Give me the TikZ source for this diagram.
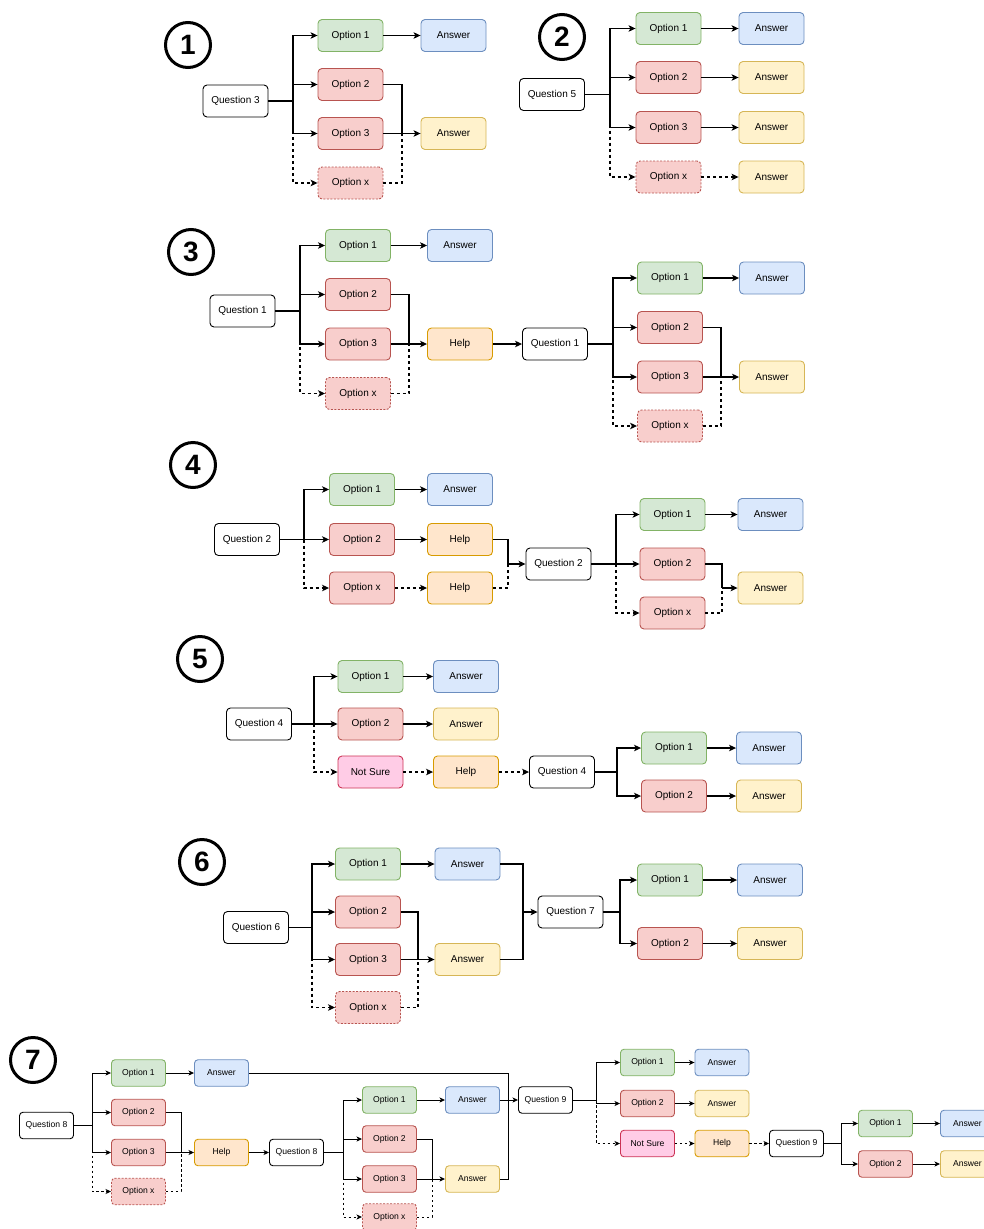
\documentclass[tikz,border=0pt]{standalone}
\usepackage{fontspec}
\setmainfont{Liberation Sans}
\usetikzlibrary{arrows.meta}
\definecolor{gfill}{HTML}{D5E8D4}\definecolor{gline}{HTML}{82B366}
\definecolor{rfill}{HTML}{F8CECC}\definecolor{rline}{HTML}{B85450}
\definecolor{bfill}{HTML}{DAE8FC}\definecolor{bline}{HTML}{6C8EBF}
\definecolor{yfill}{HTML}{FFF2CC}\definecolor{yline}{HTML}{D6B656}
\definecolor{hfill}{HTML}{FFE6CC}\definecolor{hline}{HTML}{D79B00}
\definecolor{pfill}{HTML}{FFCCE6}\definecolor{pline}{HTML}{CC3355}
\begin{document}
\begin{tikzpicture}[x=1pt,y=-1pt,
  box/.style={draw, rounded corners=4pt, minimum width=65pt, minimum height=32pt,
    line width=0.9pt, inner sep=0pt, font=\fontsize{10}{12}\selectfont},
  qbox/.style={box, fill=white, draw=black},
  gbox/.style={box, fill=gfill, draw=gline},
  rbox/.style={box, fill=rfill, draw=rline},
  rxbox/.style={rbox, dash pattern=on 2pt off 1.5pt},
  bbox/.style={box, fill=bfill, draw=bline},
  ybox/.style={box, fill=yfill, draw=yline},
  hbox/.style={box, fill=hfill, draw=hline},
  pbox/.style={box, fill=pfill, draw=pline},
  num/.style={circle, draw=black, line width=3pt, minimum size=45pt, inner sep=0pt,
    font=\fontsize{28}{28}\selectfont\bfseries},
  link/.style={line width=1.1pt, black},
  arr/.style={link, -{Stealth[length=7pt,width=6.5pt,inset=1.8pt]}},
  dlink/.style={link, dash pattern=on 3pt off 3pt},
  darr/.style={arr, dash pattern=on 3pt off 3pt},
]
\useasboundingbox (0,0) rectangle (984,1229);

% ---------- 1 ----------
\node[num] (c1) at (188,45) {1};
\node[qbox] (q3) at (235.5,101) {Question 3};
\node[gbox] (s1o1) at (350.5,35.5) {Option 1};
\node[bbox] (s1a1) at (453.5,35.5) {Answer};
\node[rbox] (s1o2) at (350.5,84.5) {Option 2};
\node[rbox] (s1o3) at (350.5,133.5) {Option 3};
\node[rxbox] (s1ox) at (350.5,183) {Option x};
\node[ybox] (s1a2) at (453.5,133.5) {Answer};
\coordinate (s1b) at (293,101);
\coordinate (s1m) at (402,133.5);
\draw[darr] (s1b) |- (s1ox.west);
\draw[link] (q3.east) -- (s1b);
\draw[arr] (s1b) |- (s1o1.west);
\draw[arr] (s1b) |- (s1o2.west);
\draw[arr] (s1b) |- (s1o3.west);
\draw[arr] (s1o1.east) -- (s1a1.west);
\draw[link] (s1o2.east) -| (s1m);
\draw[dlink] (s1ox.east) -| (s1m);
\draw[arr] (s1o3.east) -- (s1a2.west);

% ---------- 2 ----------
\node[num] (c2) at (562,37) {2};
\node[qbox] (q5) at (552,94.5) {Question 5};
\node[gbox] (s2o1) at (668.5,28.5) {Option 1};
\node[bbox] (s2a1) at (771.5,28.5) {Answer};
\node[rbox] (s2o2) at (668.5,77.5) {Option 2};
\node[ybox] (s2a2) at (771.5,77.5) {Answer};
\node[rbox] (s2o3) at (668.5,127.5) {Option 3};
\node[ybox] (s2a3) at (771.5,127.5) {Answer};
\node[rxbox] (s2ox) at (668.5,177) {Option x};
\node[ybox] (s2a4) at (771.5,177) {Answer};
\coordinate (s2b) at (610,94.5);
\draw[darr] (s2b) |- (s2ox.west);
\draw[link] (q5.east) -- (s2b);
\draw[arr] (s2b) |- (s2o1.west);
\draw[arr] (s2b) |- (s2o2.west);
\draw[arr] (s2b) |- (s2o3.west);
\draw[arr] (s2o1.east) -- (s2a1.west);
\draw[arr] (s2o2.east) -- (s2a2.west);
\draw[arr] (s2o3.east) -- (s2a3.west);
\draw[darr] (s2ox.east) -- (s2a4.west);

% ---------- 3 ----------
\node[num] (c3) at (191,252) {3};
\node[qbox] (q1) at (242.5,311) {Question 1};
\node[gbox] (s3o1) at (358,245.5) {Option 1};
\node[bbox] (s3a1) at (460,245.5) {Answer};
\node[rbox] (s3o2) at (358,294.5) {Option 2};
\node[rbox] (s3o3) at (358,344) {Option 3};
\node[rxbox] (s3ox) at (358,393.5) {Option x};
\node[hbox] (s3h) at (460,344) {Help};
\coordinate (s3b) at (300,311);
\coordinate (s3m) at (409,344);
\draw[darr] (s3b) |- (s3ox.west);
\draw[link] (q1.east) -- (s3b);
\draw[arr] (s3b) |- (s3o1.west);
\draw[arr] (s3b) |- (s3o2.west);
\draw[arr] (s3b) |- (s3o3.west);
\draw[arr] (s3o1.east) -- (s3a1.west);
\draw[link] (s3o2.east) -| (s3m);
\draw[dlink] (s3ox.east) -| (s3m);
\draw[arr] (s3o3.east) -- (s3h.west);

\node[qbox] (q1b) at (555,344) {Question 1};
\node[gbox] (s3o1b) at (670,278) {Option 1};
\node[bbox] (s3a1b) at (772,278) {Answer};
\node[rbox] (s3o2b) at (670,327.5) {Option 2};
\node[rbox] (s3o3b) at (670,377) {Option 3};
\node[rxbox] (s3oxb) at (670,426) {Option x};
\node[ybox] (s3a2b) at (772,377) {Answer};
\coordinate (s3b2) at (613,344);
\coordinate (s3m2) at (721,377);
\draw[arr] (s3h.east) -- (q1b.west);
\draw[darr] (s3b2) |- (s3oxb.west);
\draw[link] (q1b.east) -- (s3b2);
\draw[arr] (s3b2) |- (s3o1b.west);
\draw[arr] (s3b2) |- (s3o2b.west);
\draw[arr] (s3b2) |- (s3o3b.west);
\draw[arr] (s3o1b.east) -- (s3a1b.west);
\draw[link] (s3o2b.east) -| (s3m2);
\draw[dlink] (s3oxb.east) -| (s3m2);
\draw[arr] (s3o3b.east) -- (s3a2b.west);

% ---------- 4 ----------
\node[num] (c4) at (193,465) {4};
\node[qbox] (q2) at (247,539.5) {Question 2};
\node[gbox] (s4o1) at (362,489.5) {Option 1};
\node[bbox] (s4a1) at (460,489.5) {Answer};
\node[rbox] (s4o2) at (362,539.5) {Option 2};
\node[hbox] (s4h1) at (460,539.5) {Help};
\node[rbox] (s4ox) at (362,588) {Option x};
\node[hbox] (s4h2) at (460,588) {Help};
\coordinate (s4b) at (304,539.5);
\coordinate (s4m) at (508,564);
\draw[darr] (s4b) |- (s4ox.west);
\draw[arr] (q2.east) -- (s4o2.west);
\draw[arr] (s4b) |- (s4o1.west);
\draw[arr] (s4o1.east) -- (s4a1.west);
\draw[arr] (s4o2.east) -- (s4h1.west);
\draw[darr] (s4ox.east) -- (s4h2.west);
\draw[link] (s4h1.east) -| (s4m);
\draw[dlink] (s4h2.east) -| (s4m);

\node[qbox] (q2b) at (558.5,564) {Question 2};
\node[gbox] (s4o1b) at (672.5,514.5) {Option 1};
\node[bbox] (s4a1b) at (770.5,514.5) {Answer};
\node[rbox] (s4o2b) at (672.5,564) {Option 2};
\node[rbox] (s4oxb) at (672.5,613) {Option x};
\node[ybox] (s4a2b) at (770.5,588) {Answer};
\coordinate (s4b2) at (616,564);
\coordinate (s4m2) at (722,588);
\draw[arr] (s4m) -- (q2b.west);
\draw[darr] (s4b2) |- (s4oxb.west);
\draw[arr] (q2b.east) -- (s4o2b.west);
\draw[arr] (s4b2) |- (s4o1b.west);
\draw[arr] (s4o1b.east) -- (s4a1b.west);
\draw[link] (s4o2b.east) -| (s4m2);
\draw[dlink] (s4oxb.east) -| (s4m2);
\draw[arr] (s4m2) -- (s4a2b.west);

% ---------- 5 ----------
\node[num] (c5) at (200,659) {5};
\node[qbox] (q4) at (259,724) {Question 4};
\node[gbox] (s5o1) at (370.5,676.5) {Option 1};
\node[bbox] (s5a1) at (466,676.5) {Answer};
\node[rbox] (s5o2) at (370.5,724) {Option 2};
\node[ybox] (s5a2) at (466,724) {Answer};
\node[pbox] (s5ns) at (370.5,772) {Not Sure};
\node[hbox] (s5h) at (466,772) {Help};
\coordinate (s5b) at (314,724);
\draw[darr] (s5b) |- (s5ns.west);
\draw[arr] (q4.east) -- (s5o2.west);
\draw[arr] (s5b) |- (s5o1.west);
\draw[arr] (s5o1.east) -- (s5a1.west);
\draw[arr] (s5o2.east) -- (s5a2.west);
\draw[darr] (s5ns.east) -- (s5h.west);

\node[qbox] (q4b) at (562,772) {Question 4};
\node[gbox] (s5o1b) at (674,748) {Option 1};
\node[bbox] (s5a1b) at (769,748) {Answer};
\node[rbox] (s5o2b) at (674,796) {Option 2};
\node[ybox] (s5a2b) at (769,796) {Answer};
\coordinate (s5b2) at (617,772);
\draw[darr] (s5h.east) -- (q4b.west);
\draw[link] (q4b.east) -- (s5b2);
\draw[arr] (s5b2) |- (s5o1b.west);
\draw[arr] (s5b2) |- (s5o2b.west);
\draw[arr] (s5o1b.east) -- (s5a1b.west);
\draw[arr] (s5o2b.east) -- (s5a2b.west);

% ---------- 6 ----------
\node[num] (c6) at (202,862) {6};
\node[qbox] (q6) at (256,927.5) {Question 6};
\node[gbox] (s6o1) at (368,864) {Option 1};
\node[bbox] (s6a1) at (467.5,864) {Answer};
\node[rbox] (s6o2) at (368,912) {Option 2};
\node[rbox] (s6o3) at (368,959.5) {Option 3};
\node[rxbox] (s6ox) at (368,1007.5) {Option x};
\node[ybox] (s6a2) at (467.5,959.5) {Answer};
\coordinate (s6b) at (312,927.5);
\coordinate (s6m) at (418,959.5);
\coordinate (s6m2) at (523,912);
\draw[darr] (s6b) |- (s6ox.west);
\draw[link] (q6.east) -- (s6b);
\draw[arr] (s6b) |- (s6o1.west);
\draw[arr] (s6b) |- (s6o2.west);
\draw[arr] (s6b) |- (s6o3.west);
\draw[arr] (s6o1.east) -- (s6a1.west);
\draw[link] (s6o2.east) -| (s6m);
\draw[dlink] (s6ox.east) -| (s6m);
\draw[arr] (s6o3.east) -- (s6a2.west);
\draw[link] (s6a1.east) -| (s6m2);
\draw[link] (s6a2.east) -| (s6m2);

\node[qbox] (q7) at (570.5,912) {Question 7};
\node[gbox] (s6o1b) at (670,880) {Option 1};
\node[bbox] (s6a1b) at (770,880) {Answer};
\node[rbox] (s6o2b) at (670,943.5) {Option 2};
\node[ybox] (s6a2b) at (770,943.5) {Answer};
\coordinate (s6b2) at (620,912);
\draw[arr] (s6m2) -- (q7.west);
\draw[link] (q7.east) -- (s6b2);
\draw[arr] (s6b2) |- (s6o1b.west);
\draw[arr] (s6b2) |- (s6o2b.west);
\draw[arr] (s6o1b.east) -- (s6a1b.west);
\draw[arr] (s6o2b.east) -- (s6a2b.west);

% ---------- 7 ----------
\node[num] (c7) at (33,1060) {7};
\begin{scope}[
  box/.append style={minimum width=54pt, minimum height=26.5pt,
    font=\fontsize{8.6}{10}\selectfont, rounded corners=3.5pt},
  link/.append style={line width=1pt},
  arr/.style={link, -{Stealth[length=5.5pt,width=5pt,inset=1.4pt]}},
  darr/.style={arr, dash pattern=on 2.5pt off 2.5pt},
  dlink/.style={link, dash pattern=on 2.5pt off 2.5pt}]
\node[qbox] (q8) at (46.5,1125.5) {Question 8};
\node[gbox] (s7o1) at (138.5,1073) {Option 1};
\node[bbox] (s7a1) at (221.5,1073) {Answer};
\node[rbox] (s7o2) at (138.5,1112.5) {Option 2};
\node[rbox] (s7o3) at (138.5,1152.5) {Option 3};
\node[rxbox] (s7ox) at (138.5,1191.5) {Option x};
\node[hbox] (s7h) at (221.5,1152.5) {Help};
\coordinate (s7b) at (92,1125.5);
\coordinate (s7m) at (181,1152.5);
\draw[darr] (s7b) |- (s7ox.west);
\draw[link] (q8.east) -- (s7b);
\draw[arr] (s7b) |- (s7o1.west);
\draw[arr] (s7b) |- (s7o2.west);
\draw[arr] (s7b) |- (s7o3.west);
\draw[arr] (s7o1.east) -- (s7a1.west);
\draw[link] (s7o2.east) -| (s7m);
\draw[dlink] (s7ox.east) -| (s7m);
\draw[arr] (s7o3.east) -- (s7h.west);

\node[qbox] (q8b) at (296.5,1152.5) {Question 8};
\node[gbox] (s7o1c) at (389.5,1100) {Option 1};
\node[bbox] (s7a1c) at (472.5,1100) {Answer};
\node[rbox] (s7o2c) at (389.5,1139) {Option 2};
\node[rbox] (s7o3c) at (389.5,1179) {Option 3};
\node[rxbox] (s7oxc) at (389.5,1217) {Option x};
\node[ybox] (s7a2c) at (472.5,1179) {Answer};
\coordinate (s7b2) at (343,1152.5);
\coordinate (s7m2) at (432,1179);
\coordinate (s7m3) at (508,1100);
\draw[arr] (s7h.east) -- (q8b.west);
\draw[darr] (s7b2) |- (s7oxc.west);
\draw[link] (q8b.east) -- (s7b2);
\draw[arr] (s7b2) |- (s7o1c.west);
\draw[arr] (s7b2) |- (s7o2c.west);
\draw[arr] (s7b2) |- (s7o3c.west);
\draw[arr] (s7o1c.east) -- (s7a1c.west);
\draw[link] (s7o2c.east) -| (s7m2);
\draw[dlink] (s7oxc.east) -| (s7m2);
\draw[arr] (s7o3c.east) -- (s7a2c.west);
\draw[link] (s7a1.east) -| (s7m3);
\draw[link] (s7a2c.east) -| (s7m3);

\node[qbox] (q9) at (545.5,1100) {Question 9};
\node[gbox] (s7o1d) at (647.5,1062.5) {Option 1};
\node[bbox] (s7a1d) at (722,1062.5) {Answer};
\node[rbox] (s7o2d) at (647.5,1103.5) {Option 2};
\node[ybox] (s7a2d) at (722,1103.5) {Answer};
\node[pbox] (s7ns) at (647.5,1143.5) {Not Sure};
\node[hbox] (s7h2) at (722,1143.5) {Help};
\coordinate (s7b3) at (596,1100);
\draw[arr] (s7a1c.east) -- (q9.west);
\draw[darr] (s7b3) |- (s7ns.west);
\draw[link] (q9.east) -- (s7b3);
\draw[arr] (s7b3) |- (s7o1d.west);
\draw[arr] (s7b3) |- (s7o2d.west);
\draw[arr] (s7o1d.east) -- (s7a1d.west);
\draw[arr] (s7o2d.east) -- (s7a2d.west);
\draw[darr] (s7ns.east) -- (s7h2.west);

\node[qbox] (q9b) at (796.5,1143.5) {Question 9};
\node[gbox] (s7o1e) at (885.5,1123.5) {Option 1};
\node[bbox] (s7a1e) at (967.5,1123.5) {Answer};
\node[rbox] (s7o2e) at (885.5,1164) {Option 2};
\node[ybox] (s7a2e) at (967.5,1164) {Answer};
\coordinate (s7b4) at (841,1143.5);
\draw[darr] (s7h2.east) -- (q9b.west);
\draw[link] (q9b.east) -- (s7b4);
\draw[arr] (s7b4) |- (s7o1e.west);
\draw[arr] (s7b4) |- (s7o2e.west);
\draw[arr] (s7o1e.east) -- (s7a1e.west);
\draw[arr] (s7o2e.east) -- (s7a2e.west);
\end{scope}
\end{tikzpicture}
\end{document}
